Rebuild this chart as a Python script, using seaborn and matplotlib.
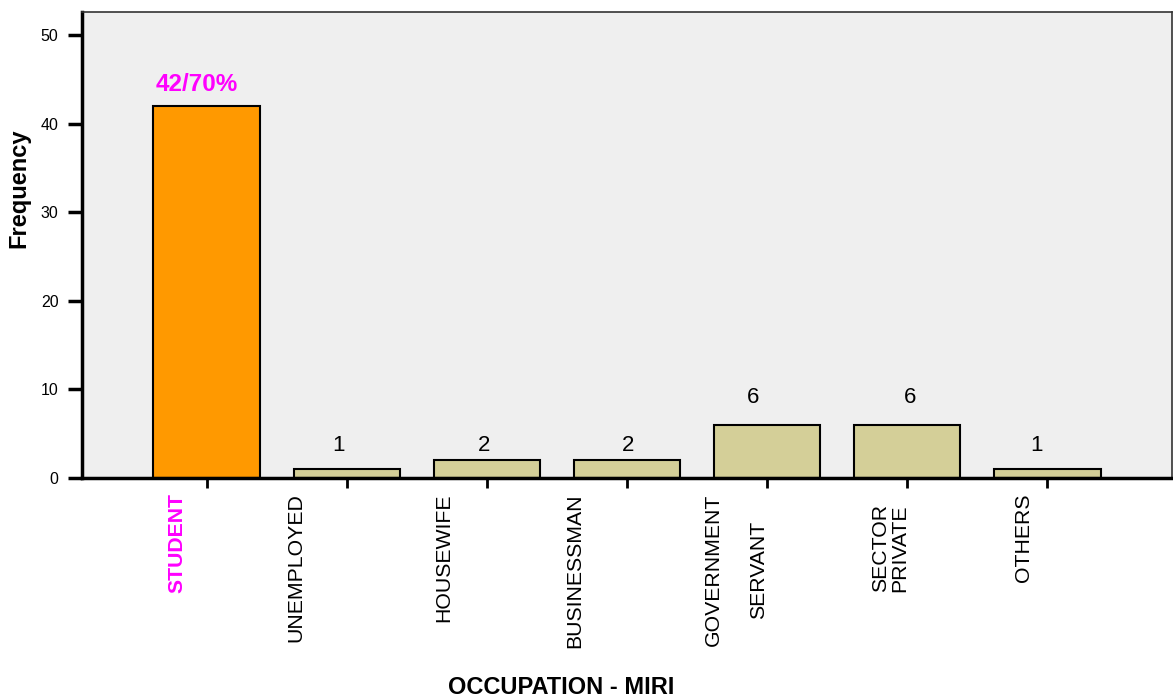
import matplotlib
matplotlib.use("Agg")
import matplotlib.pyplot as plt
import matplotlib.transforms as mtransforms
import seaborn as sns
import pandas as pd

# ---- data ----
categories = ["STUDENT", "UNEMPLOYED", "HOUSEWIFE", "BUSINESSMAN",
              "GOVERNMENT\nSERVANT", "SECTOR\nPRIVATE", "OTHERS"]
frequencies = [42, 1, 2, 2, 6, 6, 1]
value_labels = ["42/70%", "1", "2", "2", "6", "6", "1"]

# ---- style ----
bar_colors = ["#FF9900"] + ["#D4CF98"] * 6
label_offsets_px = [(-10, 10), (-8, 13), (-3, 4), (1, 4), (-14, 17), (3, 17), (-11, 13)]
tick_offsets_px = [(-30, 0), (-51, 0), (-43.5, 0), (-52.5, 0), (-31, 0), (-17, -11), (-24, 0)]

sns.set_theme(style="white")
plt.rcParams["font.family"] = ["Liberation Sans", "DejaVu Sans"]
plt.rcParams["text.color"] = "black"
plt.rcParams["axes.labelcolor"] = "black"
plt.rcParams["xtick.color"] = "black"
plt.rcParams["ytick.color"] = "black"

df = pd.DataFrame({"occupation": categories, "frequency": frequencies})

fig = plt.figure(figsize=(11.73, 7.0), dpi=100)
ax = fig.add_axes([82 / 1173, 1 - 478 / 700, 1090 / 1173, 466 / 700])
ax.set_facecolor("#EFEFEF")

sns.barplot(data=df, x="occupation", y="frequency", hue="occupation",
            palette=bar_colors, legend=False, width=0.76,
            edgecolor="black", linewidth=1.5, ax=ax, saturation=1)

ax.set_xlim(-0.89, 6.89)
ax.set_ylim(0, 52.6)
ax.set_yticks([0, 10, 20, 30, 40, 50])

# spines
for side in ["left", "bottom"]:
    ax.spines[side].set_linewidth(2.5)
    ax.spines[side].set_color("black")
for side in ["top", "right"]:
    ax.spines[side].set_visible(True)
    ax.spines[side].set_linewidth(1.2)
    ax.spines[side].set_color("#333333")

ax.tick_params(axis="y", which="major", direction="out", length=10, width=2.5,
               color="black", labelcolor="black", labelsize=11.5, pad=7, left=True)
ax.tick_params(axis="x", which="major", direction="out", length=7.5, width=2,
               color="black", labelcolor="black", labelsize=15.3, pad=3.5, bottom=True)

# x tick labels
ax.set_xticks(range(len(categories)))
ax.set_xticklabels(categories)
for i, lab in enumerate(ax.get_xticklabels()):
    lab.set_rotation(90)
    lab.set_va("top")
    lab.set_ha("center")
    dx, dy = tick_offsets_px[i]
    lab.set_transform(lab.get_transform() +
                      mtransforms.ScaledTranslation(dx / 100, dy / 100, fig.dpi_scale_trans))
    if i == 0:
        lab.set_color("#FF00FF")
        lab.set_fontweight("bold")
    elif i == 4:
        lab.set_multialignment("center")
        lab.set_linespacing(2.7)
    elif i == 5:
        lab.set_multialignment("left")
        lab.set_linespacing(1.0)

# value labels
for i, (v, txt) in enumerate(zip(frequencies, value_labels)):
    dx, dy = label_offsets_px[i]
    if i == 0:
        ax.annotate(txt, (i, v), xytext=(dx * 0.72, dy * 0.72), textcoords="offset points",
                    ha="center", va="bottom", color="#FF00FF", fontsize=17.5, fontweight="bold")
    else:
        ax.annotate(txt, (i, v), xytext=(dx * 0.72, dy * 0.72), textcoords="offset points",
                    ha="center", va="bottom", color="black", fontsize=16)

ax.set_xlabel("OCCUPATION - MIRI", fontsize=17, fontweight="bold", va="center")
ax.xaxis.set_label_coords((561 - 82) / 1090, (478 - 687) / 466)
ax.set_ylabel("Frequency", fontsize=17, fontweight="bold", va="center")
ax.yaxis.set_label_coords((18.5 - 82) / 1090, (478 - 188.5) / 466)

fig.savefig("out.png", dpi=100)
